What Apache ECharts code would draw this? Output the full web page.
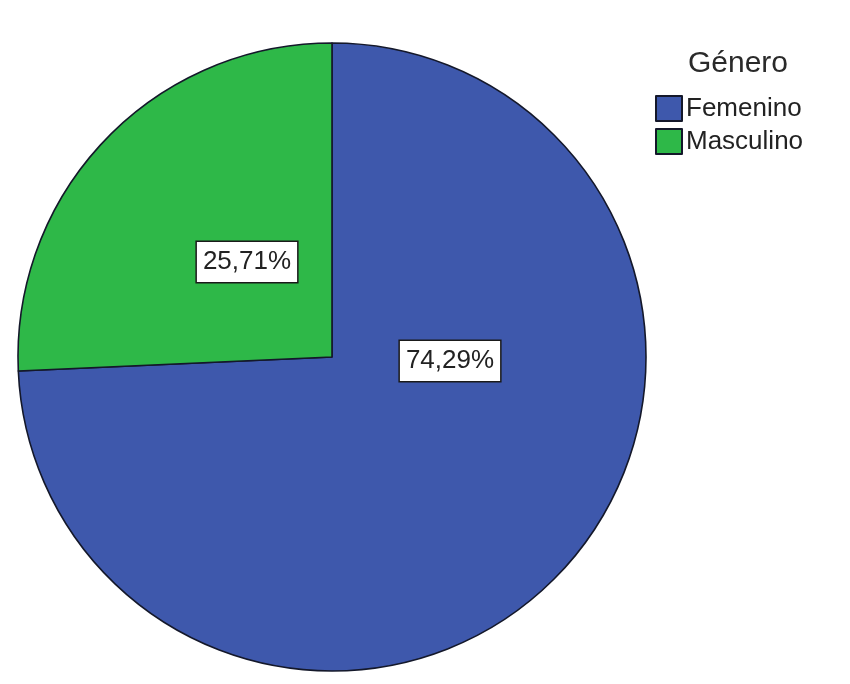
<!DOCTYPE html>
<html>
<head>
<meta charset="utf-8">
<script src="https://cdn.jsdelivr.net/npm/echarts@6/dist/echarts.min.js"></script>
<style>
  html, body { margin: 0; padding: 0; background: #ffffff; }
  #chart { width: 850px; height: 684px; }
</style>
</head>
<body>
<div id="chart"></div>
<script>
// Distribución por género (porcentajes)
const legendTitle = 'Género';
const categories = ['Femenino', 'Masculino'];
const percentages = [74.29, 25.71];
const colors = ['#3e58ac', '#2eb848'];

const FONT = "'Liberation Sans', Arial, sans-serif";

const chart = echarts.init(document.getElementById('chart'), null, { renderer: 'canvas' });

// Label anchor offsets from the pie centre, per slice
const labelOffsets = [[118, 4], [-85, -95]];
const pieCenter = [332, 357];

chart.setOption({
  backgroundColor: '#ffffff',
  animation: false,
  color: colors,
  title: {
    text: legendTitle,
    left: 733,
    top: 44,
    textAlign: 'center',
    textStyle: { fontFamily: FONT, fontSize: 30, fontWeight: 'normal', color: '#2a2a2a' }
  },
  legend: {
    orient: 'vertical',
    left: 655,
    top: 95,
    itemWidth: 26,
    itemHeight: 25,
    itemGap: 6,
    icon: 'rect',
    padding: 0,
    textStyle: { fontFamily: FONT, fontSize: 26, color: '#222222', padding: [0, 0, 0, -1] },
    data: categories
  },
  series: [{
    type: 'pie',
    center: pieCenter,
    radius: 314,
    startAngle: 90,
    clockwise: true,
    avoidLabelOverlap: false,
    itemStyle: { borderColor: '#14182a', borderWidth: 1.6 },
    emphasis: { disabled: true },
    label: {
      show: true,
      position: 'inside',
      formatter: p => p.value.toFixed(2).replace('.', ',') + '%',
      fontFamily: FONT,
      fontSize: 26,
      color: '#222222',
      backgroundColor: '#ffffff',
      borderColor: '#1a1a1a',
      borderWidth: 1.5,
      padding: [7, 6, 7, 6]
    },
    labelLayout: p => ({
      x: pieCenter[0] + labelOffsets[p.dataIndex][0],
      y: pieCenter[1] + labelOffsets[p.dataIndex][1],
      align: 'center',
      verticalAlign: 'middle'
    }),
    data: categories.map((name, i) => ({ name, value: percentages[i] }))
  }]
});
</script>
</body>
</html>
